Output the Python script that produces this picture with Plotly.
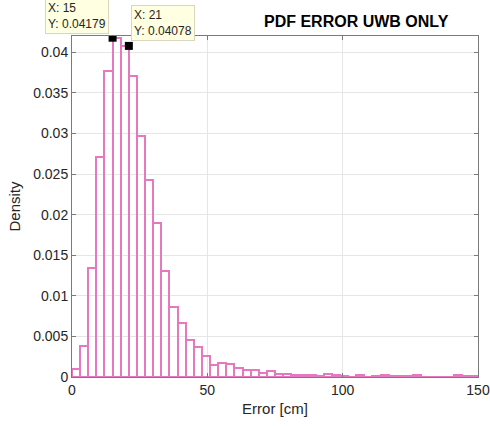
import plotly.graph_objects as go

# Histogram bins (width 3 cm) from 0 to 150
bin_width = 3
bin_left_edges = list(range(0, 150, 3))
density = [
    0.00095, 0.00380, 0.01340, 0.02710, 0.03770, 0.04179, 0.04078, 0.03705,
    0.02965, 0.02430, 0.01900, 0.01310, 0.00862, 0.00665, 0.00452, 0.00368,
    0.00255, 0.00148, 0.00172, 0.00164, 0.00115, 0.00090, 0.00090, 0.00045,
    0.00070, 0.00037, 0.00037, 0.00020, 0.00020, 0.00020, 0.00016, 0.00033,
    0.00020, 0.00016, 0.00004, 0.00020, 0.00006, 0.00014, 0.00024, 0.00018,
    0.00008, 0.00013, 0.00030, 0.00004, 0.00003, 0.00003, 0.00004, 0.00024,
    0.00012, 0.00018,
]
bin_centers = [e + bin_width / 2 for e in bin_left_edges]

# Data tips
tip_x = [15, 21]
tip_y = [0.04179, 0.04078]
tip_labels = ["X: 15<br>Y: 0.04179", "X: 21<br>Y: 0.04078"]

title_text = "PDF ERROR UWB ONLY"
x_title = "Error [cm]"
y_title = "Density"
x_ticks = [0, 50, 100, 150]
y_ticks = [0, 0.005, 0.01, 0.015, 0.02, 0.025, 0.03, 0.035, 0.04]
y_ticklabels = ["0", "0.005", "0.01", "0.015", "0.02", "0.025", "0.03", "0.035", "0.04"]

FONT = "Liberation Sans, Arial, Helvetica, sans-serif"
PINK = "#e678c0"
AXIS = "#7a7a7a"
TXT = "#262626"

fig = go.Figure()
fig.add_trace(go.Bar(
    x=bin_centers, y=density, width=[bin_width] * len(bin_centers),
    marker=dict(color="rgba(0,0,0,0)", line=dict(color=PINK, width=2)),
    showlegend=False, hoverinfo="skip",
))
fig.add_trace(go.Scatter(
    x=tip_x, y=tip_y, mode="markers",
    marker=dict(symbol="square", size=8, color="black"),
    showlegend=False, hoverinfo="skip",
))

offsets = [(-36, -22), (34, -23)]
for (tx, ty, lab, (ax, ay)) in zip(tip_x, tip_y, tip_labels, offsets):
    fig.add_annotation(
        x=tx, y=ty, xref="x", yref="y", text=lab, showarrow=True,
        arrowcolor="rgba(0,0,0,0)", arrowwidth=0.1, ax=ax, ay=ay,
        align="left", bgcolor="#ffffe1", bordercolor="#d9d6c0", borderwidth=1,
        borderpad=2, font=dict(family=FONT, size=12, color=TXT),
    )

fig.add_annotation(
    x=0.70, y=1.042, xref="paper", yref="paper", text="<b>" + title_text + "</b>",
    showarrow=False, xanchor="center", yanchor="middle",
    font=dict(family=FONT, size=16, color="black"),
)

fig.update_layout(
    width=490, height=426,
    margin=dict(l=72, r=12, t=36, b=49),
    paper_bgcolor="white", plot_bgcolor="white",
    bargap=0,
    font=dict(family=FONT, size=14, color=TXT),
)
fig.update_xaxes(
    range=[0, 150], tickvals=x_ticks, ticktext=[str(v) for v in x_ticks],
    showgrid=True, gridcolor="#e6e6e6", gridwidth=1, zeroline=False,
    showline=True, linecolor=AXIS, linewidth=1, mirror="ticks",
    ticks="inside", ticklen=4, tickcolor=AXIS, automargin=False,
    title=dict(text=x_title, font=dict(size=15, color=TXT), standoff=6),
    tickfont=dict(size=14, color=TXT),
)
fig.update_yaxes(
    range=[0, 0.042], tickvals=y_ticks, ticktext=y_ticklabels,
    showgrid=True, gridcolor="#e6e6e6", gridwidth=1, zeroline=False,
    showline=True, linecolor=AXIS, linewidth=1, mirror="ticks",
    ticks="inside", ticklen=4, tickcolor=AXIS, automargin=False,
    title=dict(text=y_title, font=dict(size=15, color=TXT), standoff=8),
    tickfont=dict(size=14, color=TXT),
)

fig.write_html("out.html")
